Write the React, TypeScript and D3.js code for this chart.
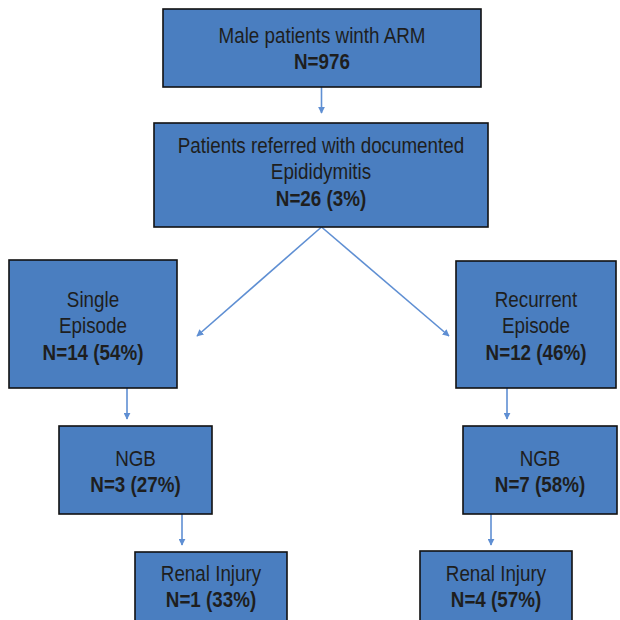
import React from "react";
import * as d3 from "d3";

// ---- data ----
const nodeTitles: string[][] = [
  ["Male patients winth ARM"],
  ["Patients referred with documented", "Epididymitis"],
  ["Single", "Episode"],
  ["Recurrent", "Episode"],
  ["NGB"],
  ["NGB"],
  ["Renal Injury"],
  ["Renal Injury"],
];
const nodeCounts: number[] = [976, 26, 14, 12, 3, 7, 1, 4];
const nodePercents: (number | null)[] = [null, 3, 54, 46, 27, 58, 33, 57];
const links: [number, number][] = [
  [0, 1],
  [1, 2],
  [1, 3],
  [2, 4],
  [3, 5],
  [4, 6],
  [5, 7],
];

// ---- layout (pixel geometry, separate from data) ----
const boxes = [
  { x: 163, y: 9, w: 318, h: 78, base: 34 },
  { x: 154, y: 123, w: 334, h: 104, base: 30 },
  { x: 9, y: 260, w: 168, h: 128, base: 47 },
  { x: 456, y: 261, w: 160, h: 127, base: 46 },
  { x: 59, y: 426, w: 153, h: 88, base: 40 },
  { x: 463, y: 426, w: 154, h: 88, base: 40 },
  { x: 135, y: 552, w: 152, h: 90, base: 29 },
  { x: 420, y: 551, w: 152, h: 90, base: 30 },
];
const arrowPaths: [number, number, number, number][] = [
  [321.5, 87, 321.5, 113],
  [321.5, 227, 197, 336],
  [321.5, 227, 449, 336],
  [127, 388, 127, 419],
  [507, 388, 507, 419],
  [182, 514, 182, 545],
  [491, 514, 491, 545],
];
const LINE = 26.3;
const FILL = "#4a7ec0";
const ARROW = "#5f8fd3";
const TEXT = "#1e1e1e";
const FONT = "'Liberation Sans', Arial, sans-serif";
const FS = 21.5;
const SX = 0.875;

export default function App() {
  const line = d3.line<[number, number]>();
  return (
    <svg width={620} height={620} style={{ position: "absolute", left: 0, top: 0 }}>
      <defs>
        <marker id="ah" viewBox="0 0 10 10" refX={9} refY={5} markerWidth={7} markerHeight={7} markerUnits="userSpaceOnUse" orient="auto">
          <path d="M0,0 L10,5 L0,10 Z" fill={ARROW} />
        </marker>
      </defs>
      <rect width={620} height={620} fill="#fff" />
      {links.map((l, i) => {
        const p = arrowPaths[i];
        return (
          <path
            key={"a" + i}
            d={line([[p[0], p[1]], [p[2], p[3]]]) || ""}
            stroke={ARROW}
            strokeWidth={1.6}
            fill="none"
            markerEnd="url(#ah)"
          />
        );
      })}
      {nodeTitles.map((t, i) => {
        const b = boxes[i];
        const cx = b.x + b.w / 2;
        const nLine = nodePercents[i] == null ? `N=${nodeCounts[i]}` : `N=${nodeCounts[i]} (${nodePercents[i]}%)`;
        return (
          <g key={"n" + i}>
            <rect x={b.x} y={b.y} width={b.w} height={b.h} fill={FILL} stroke="#111" strokeWidth={1.6} />
            {t.map((s, j) => (
              <text
                key={j}
                transform={`translate(${cx},${b.y + b.base + j * LINE}) scale(${SX},1)`}
                textAnchor="middle"
                fontFamily={FONT}
                fontSize={FS}
                fill={TEXT}
              >
                {s}
              </text>
            ))}
            <text
              transform={`translate(${cx},${b.y + b.base + t.length * LINE}) scale(${SX},1)`}
              textAnchor="middle"
              fontFamily={FONT}
              fontSize={FS}
              fontWeight="bold"
              fill={TEXT}
            >
              {nLine}
            </text>
          </g>
        );
      })}
    </svg>
  );
}
